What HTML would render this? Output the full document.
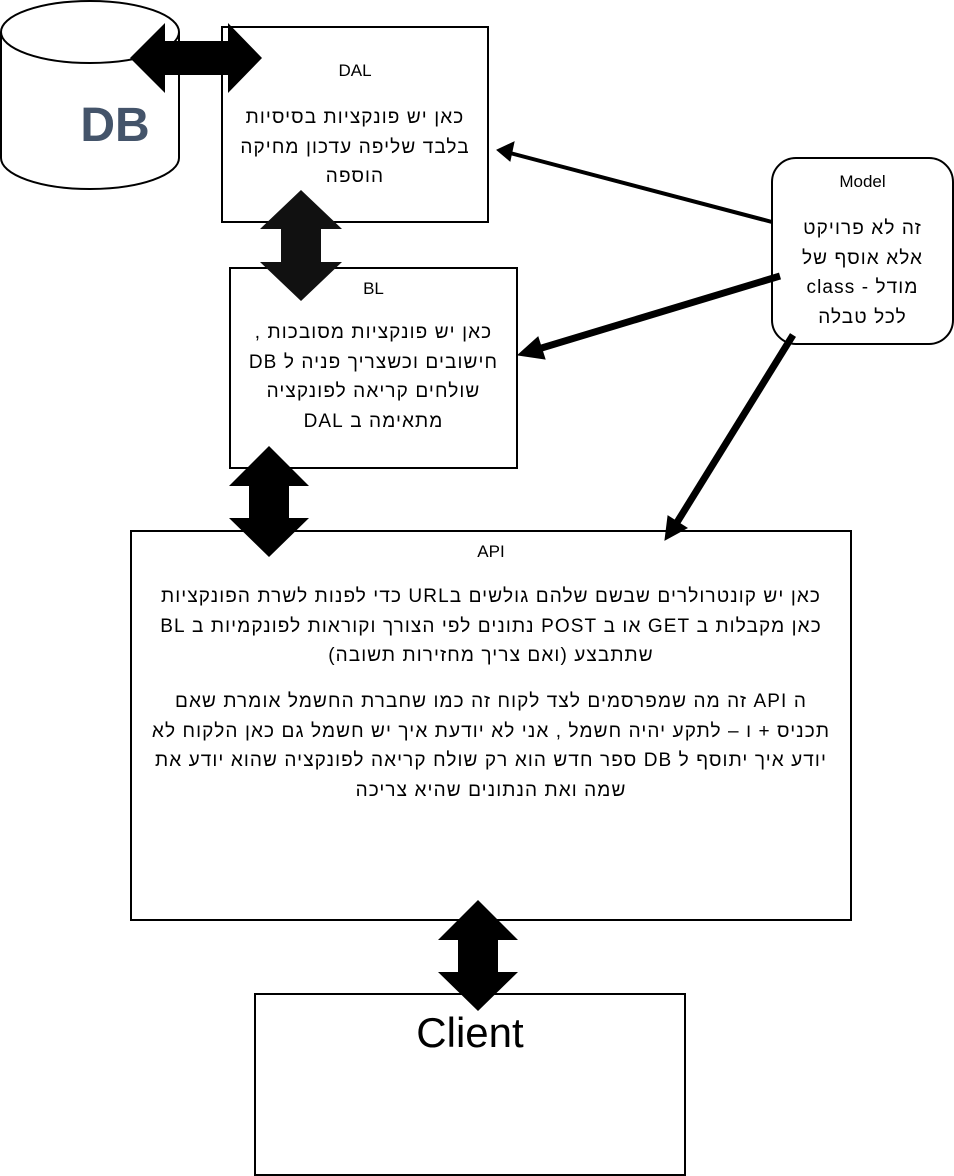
<!DOCTYPE html>
<html><head><meta charset="utf-8"><style>
body{margin:0;width:954px;height:1176px;background:#fff;position:relative;overflow:hidden;font-family:"Liberation Sans","DejaVu Sans",sans-serif;}
.t{position:absolute;text-align:center;color:#000;white-space:nowrap;}
.h{direction:rtl;font-size:19px;line-height:29.5px;letter-spacing:1.1px;}
.l{font-size:17px;}
</style></head><body>
<svg width="954" height="1176" style="position:absolute;left:0;top:0">
<g fill="#fff" stroke="#000" stroke-width="2">
<path d="M1,32 L1,158 A89,31 0 0 0 179,158 L179,32"/>
<ellipse cx="90" cy="32" rx="89" ry="31"/>
<rect x="222" y="27" width="266" height="195"/>
<rect x="230" y="268" width="287" height="200"/>
<rect x="131" y="531" width="720" height="389"/>
<rect x="255" y="994" width="430" height="181"/>
<rect x="772" y="158" width="181" height="186" rx="24"/>
</g>
<g fill="#000">
<polygon points="130,58 165,23 165,41 228,41 228,23 262,58 228,93 228,75 165,75 165,93"/>
<polygon points="301,190 342,229 321,229 321,262 342,262 301,301 260,262 281,262 281,229 260,229" fill="#111"/>
<polygon points="269,446 309,486 289,486 289,518 309,518 269,557 229,518 249,518 249,486 229,486"/>
<polygon points="478,900 518,940 498,940 498,972 518,972 478,1011 438,972 458,972 458,940 438,940"/>
</g>
<g stroke="#000" fill="#000">
<line x1="772" y1="222" x2="510" y2="153" stroke-width="4"/>
<polygon points="497,150 514,142 510,161"/>
<line x1="780" y1="276" x2="535" y2="350" stroke-width="7"/>
<polygon points="518,355 538,337 545,359"/>
<line x1="793" y1="335" x2="676" y2="524" stroke-width="7"/>
<polygon points="665,540 668,516 687,528"/>
</g>
</svg>
<div class="t" style="left:60px;top:98px;width:110px;font-size:48px;font-weight:bold;color:#44546a;line-height:56px">DB</div>
<div class="t l" style="left:222px;top:61px;width:266px">DAL</div>
<div class="t h" style="left:222px;top:103px;width:266px">כאן יש פונקציות בסיסיות<br>בלבד שליפה עדכון מחיקה<br>הוספה</div>
<div class="t l" style="left:230px;top:279px;width:287px">BL</div>
<div class="t h" style="left:230px;top:318px;width:287px">כאן יש פונקציות מסובכות ,<br>חישובים וכשצריך פניה ל DB<br>שולחים קריאה לפונקציה<br>מתאימה ב DAL</div>
<div class="t l" style="left:772px;top:172px;width:181px">Model</div>
<div class="t h" style="left:772px;top:214px;width:181px">זה לא פרויקט<br>אלא אוסף של<br>מודל - class<br>לכל טבלה</div>
<div class="t l" style="left:131px;top:542px;width:720px">API</div>
<div class="t h" style="left:131px;top:582px;width:720px">כאן יש קונטרולרים שבשם שלהם גולשים בURL כדי לפנות לשרת הפונקציות<br>כאן מקבלות ב GET או ב POST נתונים לפי הצורך וקוראות לפונקמיות ב BL<br>שתתבצע (ואם צריך מחזירות תשובה)</div>
<div class="t h" style="left:131px;top:687px;width:720px">ה API זה מה שמפרסמים לצד לקוח זה כמו שחברת החשמל אומרת שאם<br>תכניס + ו – לתקע יהיה חשמל , אני לא יודעת איך יש חשמל גם כאן הלקוח לא<br>יודע איך יתוסף ל DB ספר חדש הוא רק שולח קריאה לפונקציה שהוא יודע את<br>שמה ואת הנתונים שהיא צריכה</div>
<div class="t" style="left:255px;top:1008px;width:430px;font-size:42px;line-height:50px">Client</div>
</body></html>
